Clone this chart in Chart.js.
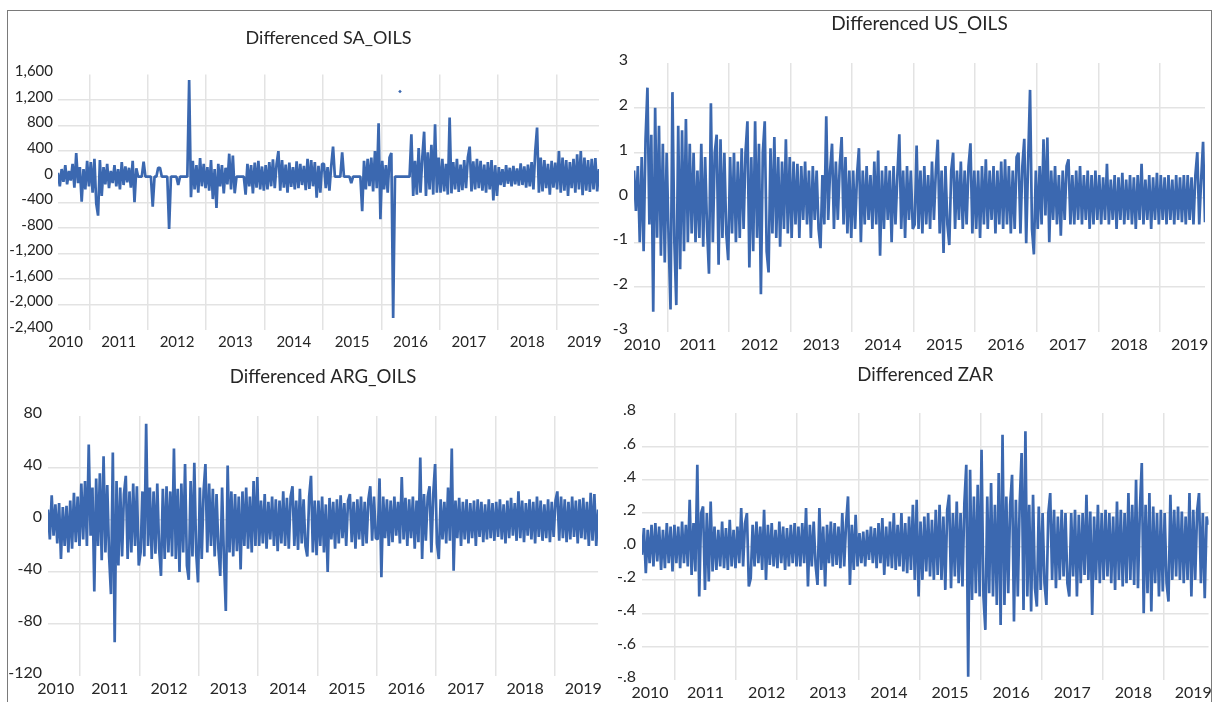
<!DOCTYPE html>
<html><head><meta charset="utf-8">
<script src="https://cdn.jsdelivr.net/npm/chart.js@4.4.1/dist/chart.umd.min.js"></script>
<style>
html,body{margin:0;padding:0;background:#fff;}
body{width:1215px;height:702px;position:relative;overflow:hidden;}
canvas{position:absolute;}
#frame{position:absolute;left:7px;top:10px;width:1205px;height:720px;border:1px solid #7a7a7a;box-sizing:border-box;}
</style></head><body>
<div id="frame"></div>
<canvas id="c1"></canvas><canvas id="c2"></canvas><canvas id="c3"></canvas><canvas id="c4"></canvas>
<script>
// ---- observation window (fractional years) and axis labels ----
const obsStart = 2010.46, obsEnd = 2019.73;
const yearLabels = ['2010','2011','2012','2013','2014','2015','2016','2017','2018','2019'];
const yearLabelPos = [2010.59,2011.5,2012.5,2013.5,2014.5,2015.5,2016.5,2017.5,2018.5,2019.48];
const yearGrid = [2011,2012,2013,2014,2015,2016,2017,2018,2019];

// ---- series values (one line per year) ----
const saOils = [
 60,-150,120,-80,180,-120,90,-60,200,-170,370,-100,150,-390,120,-200,250,-150,
 230,-250,280,-420,-610,260,-300,150,-120,200,-180,90,-100,180,-150,120,-200,230,-130,160,-90,140,-170,250,-400,130,0,0,0,235,0,0,
 0,0,-470,0,0,140,140,0,0,0,0,-820,0,0,0,0,-130,0,0,0,0,0,1515,-320,250,-200,180,-250,290,-150,200,-180,
 150,-220,260,-350,120,-490,200,-150,180,-260,140,-120,360,-200,330,-260,0,0,0,0,0,-280,200,-150,180,-260,220,-170,250,-200,160,-220,
 180,-200,230,-150,270,-180,200,400,-220,260,-170,190,-250,220,-160,150,-200,240,-180,200,-130,170,-210,280,-190,260,-150,230,-330,170,-250,200,
 200,-180,150,-220,170,470,0,0,0,0,380,0,0,0,0,-100,0,0,0,0,0,-540,250,-200,280,-150,300,-230,400,-180,835,-665,
 250,-200,180,-250,300,370,-2210,0,0,0,0,0,0,0,0,0,665,-300,250,-280,450,-250,300,705,-300,380,-200,500,-280,820,-250,300,
 -250,280,-230,200,-280,925,-260,230,-200,280,-240,190,-210,260,-180,300,470,-230,240,-200,280,-180,250,-220,190,-250,230,-200,260,-370,180,-300,
 150,-130,120,-160,180,-110,140,-150,170,-120,130,-140,210,-130,160,-170,190,-150,230,-200,400,770,-250,300,-230,260,-180,200,-280,250,-170,220,
 -200,400,-250,300,-220,260,-300,230,-180,280,-250,350,-200,400,-290,300,-220,260,-240,280,-200,290,-230,120
];
const saStrayPoint = [{x: 2016.32, y: 1333}];

const usOils = [
 0.6,-0.3,0.7,-1.0,0.9,-1.2,1.3,2.45,-0.6,1.4,-2.55,2.0,-0.9,1.6,-1.3,1.2,-1.45,1.0,
 -0.9,-2.5,2.35,-1.0,-2.4,1.6,-1.6,1.5,-1.2,1.75,-1.0,1.2,-0.8,1.0,-1.0,0.6,-0.9,1.2,-1.1,0.9,-0.7,-1.7,2.1,-1.0,1.0,1.4,-1.5,1.3,-0.9,1.0,-0.8,-1.4,
 0.9,-0.8,1.0,-1.0,0.8,-0.9,1.1,-0.7,1.0,1.7,-1.56,0.9,-1.2,1.7,-0.9,1.2,-2.16,1.0,1.7,-1.2,-1.67,1.1,-0.8,1.35,-0.9,0.9,-1.1,0.8,-0.7,1.3,-0.8,0.9,
 -0.9,0.8,-0.6,0.75,-0.9,0.7,-0.5,0.8,-0.6,0.6,-0.9,0.7,-0.5,0.6,-0.7,-1.13,0.5,-0.6,1.81,-0.5,0.6,1.2,-0.7,0.8,-0.5,0.7,1.35,-0.6,0.9,-0.8,0.6,-0.9,
 0.6,-0.7,0.5,1.1,-1.0,0.6,-0.6,0.7,-0.5,0.5,-0.7,0.8,-0.6,1.05,-1.3,0.6,-0.7,0.7,-0.5,0.6,-1.0,0.7,-0.6,0.5,1.41,-0.7,0.6,-0.9,0.7,-0.5,0.6,-0.7,
 -0.6,1.16,-0.7,0.6,-0.8,0.7,-0.6,0.5,-0.7,0.8,-0.5,0.6,1.29,-0.8,0.6,-1.24,0.7,-0.6,-1.06,0.6,1.0,-0.7,0.6,-0.5,0.8,-0.7,0.6,-0.6,0.7,1.21,-0.8,0.6,
 -0.7,0.6,-0.9,0.7,-0.6,0.85,-0.7,0.6,-0.5,0.7,-0.8,0.6,-0.6,0.8,-0.7,0.85,-0.6,0.7,-0.8,0.6,-0.7,0.9,1.0,-0.8,0.7,1.31,-1.02,0.8,2.4,-0.7,-1.27,0.6,
 -0.7,0.7,-0.6,1.3,-0.4,1.34,-1.0,0.6,-0.5,0.7,-0.6,0.5,-0.85,0.6,-0.5,0.7,0.85,-0.6,0.5,-0.6,0.6,-0.5,0.7,-0.6,0.5,-0.5,0.6,-0.7,0.5,-0.6,0.6,-0.5,
 0.5,-0.6,0.45,-0.5,0.75,-0.6,0.4,-0.5,0.5,-0.7,0.45,-0.5,0.55,-0.6,0.4,-0.5,0.5,-0.6,0.45,-0.7,0.5,-0.5,0.75,-0.6,0.4,-0.5,0.5,-0.7,0.45,-0.5,0.55,-0.6,
 0.5,-0.5,0.45,-0.6,0.5,-0.5,0.4,-0.6,0.5,-0.5,0.45,-0.55,0.5,-0.6,0.5,-0.5,0.45,-0.6,0.5,1.01,-0.6,0.4,1.24,-0.55
];

const argOils = [
 8,-15,19,-12,12,-18,13,-30,10,-20,11,-25,15,-22,21,-17,18,-20,
 28,-15,30,-20,58,-12,25,-55,32,-20,36,-31,49,-25,27,-28,-57,52,-94,30,-35,25,-28,20,34,-30,22,-25,28,-20,26,-35,
 -25,22,-28,74,-20,25,-30,22,-26,28,-22,-43,24,-30,26,-25,22,-28,55,-30,24,-40,28,-25,43,-35,-46,30,-28,44,-25,-48,
 25,-30,22,43,-25,28,-20,24,-28,20,-22,-43,25,-30,-70,42,-25,22,-28,20,-24,18,-38,22,-20,25,-22,18,-25,30,-20,33,
 -20,15,-18,20,-22,14,-15,18,-20,16,-24,15,-18,22,-20,17,-22,18,26,-20,15,-23,24,-18,16,-20,-28,18,34,-25,15,-27,
 15,-20,18,-25,12,-40,17,-15,14,-22,16,-18,19,-14,13,-20,15,20,-17,14,-22,16,-15,18,-20,14,-18,16,26,-16,18,-14,
 -15,32,-44,18,-14,16,-20,15,-17,18,-12,14,-18,33,-15,17,-20,16,-14,18,-22,15,-17,48,-30,20,-16,18,26,-25,20,43,
 -18,-30,16,-15,14,-18,25,-16,55,-39,15,-14,17,-20,14,-15,16,-18,13,-14,15,-20,16,-13,14,-17,12,-15,16,-14,13,-16,
 14,-13,16,-15,12,-18,15,-14,17,-12,13,-16,22,-14,15,-17,13,-12,16,-15,14,-18,18,-13,15,-16,12,-14,16,-17,14,-13,
 15,22,-16,18,-14,16,-17,14,-15,18,-13,15,-18,16,-14,17,-15,14,-20,21,-16,20,-20,8
];

const zarDiff = [
 -0.05,0.11,-0.16,0.1,-0.1,0.13,-0.12,0.14,-0.09,0.12,-0.14,0.1,-0.13,0.14,-0.1,0.12,-0.15,0.13,
 -0.1,0.12,-0.13,0.15,-0.1,0.13,-0.12,0.28,-0.17,0.14,-0.15,0.49,-0.3,0.2,0.24,-0.26,0.2,-0.21,0.27,-0.15,0.12,-0.14,0.1,-0.12,0.15,-0.13,0.11,-0.14,0.16,-0.12,0.1,-0.13,
 0.12,-0.1,0.23,-0.12,0.14,0.2,-0.24,-0.19,0.13,-0.12,0.15,-0.1,0.12,-0.14,0.22,-0.2,0.13,-0.11,0.14,-0.12,0.1,-0.13,0.15,-0.1,0.12,-0.14,0.11,-0.12,0.13,-0.1,0.14,-0.12,
 0.12,-0.12,0.14,-0.1,0.23,-0.24,0.13,-0.12,0.15,-0.11,-0.23,0.23,-0.14,0.12,-0.24,0.13,-0.1,0.15,-0.12,0.14,-0.11,0.12,-0.13,0.2,-0.12,0.14,0.3,-0.23,0.13,-0.14,0.19,-0.12,
 0.08,-0.1,0.09,-0.12,0.1,-0.08,0.12,-0.1,0.11,-0.13,0.14,-0.1,0.17,-0.17,0.12,-0.12,0.15,-0.13,0.2,-0.14,0.13,-0.12,0.2,-0.15,0.14,-0.16,0.18,-0.14,0.25,-0.2,0.28,-0.3,
 0.15,-0.2,0.18,-0.15,0.2,-0.18,0.16,-0.2,0.22,-0.17,0.25,-0.2,0.18,-0.26,0.22,0.31,-0.25,0.2,-0.18,0.27,-0.22,0.2,-0.24,0.26,0.49,-0.78,0.46,-0.32,0.3,-0.28,0.37,-0.3,
 0.58,-0.3,-0.5,0.3,-0.28,0.38,-0.3,0.25,-0.35,0.44,-0.47,0.67,-0.35,0.3,-0.28,0.25,0.43,-0.45,0.28,-0.3,0.26,0.56,-0.38,0.69,-0.3,0.25,-0.39,0.31,-0.25,-0.36,0.24,-0.26,
 0.2,-0.22,-0.35,0.2,0.32,-0.2,0.22,-0.25,0.18,-0.2,0.22,-0.18,0.2,-0.22,-0.3,0.2,-0.18,0.22,-0.3,0.19,-0.22,0.2,-0.17,0.31,-0.2,0.21,-0.41,0.18,-0.2,0.25,-0.22,0.2,
 -0.2,0.22,-0.18,0.2,-0.22,0.18,-0.26,0.27,-0.2,0.22,-0.24,0.2,-0.22,0.32,-0.2,0.25,-0.23,0.4,-0.25,0.22,0.5,-0.4,0.25,-0.28,0.32,-0.39,0.24,-0.22,0.2,-0.3,0.22,-0.27,
 0.2,-0.22,-0.33,0.31,-0.2,0.22,-0.18,0.24,-0.2,0.21,-0.22,0.18,-0.2,0.32,-0.3,0.22,-0.2,0.21,0.32,-0.22,0.2,-0.31,0.18,0.13
];

// ---- y tick values and their printed labels (ascending) ----
const saTicks = [-2400,-2000,-1600,-1200,-800,-400,0,400,800,1200,1600];
const saTickLabels = ['-2,400','-2,000','-1,600','-1,200','-800','-400','0','400','800','1,200','1,600'];
const usTicks = [-3,-2,-1,0,1,2,3];
const usTickLabels = ['-3','-2','-1','0','1','2','3'];
const argTicks = [-120,-80,-40,0,40,80];
const argTickLabels = ['-120','-80','-40','0','40','80'];
const zarTicks = [-0.8,-0.6,-0.4,-0.2,0,0.2,0.4,0.6,0.8];
const zarTickLabels = ['-.8','-.6','-.4','-.2','.0','.2','.4','.6','.8'];

// ---- styling ----
const LINE = '#3b68b0';
const GRID = '#e3e3e3';
const TEXT = '#262626';
const FONT = 'Lato, "Open Sans", sans-serif';

function drawPanel(id, p) {
  const cv = document.getElementById(id);
  cv.width = p.box[2]; cv.height = p.box[3];
  cv.style.left = p.box[0] + 'px'; cv.style.top = p.box[1] + 'px';
  const n = p.values.length;
  const step = (obsEnd - obsStart) / (n - 1);
  const pts = p.values.map((v, i) => ({x: obsStart + i * step, y: v}));
  const datasets = [{data: pts, borderColor: LINE, borderWidth: 2.7, borderJoinStyle: 'bevel', borderCapStyle: 'butt',
                     pointRadius: 0, tension: 0, fill: false}];
  if (p.extra) datasets.push({data: p.extra, showLine: false, pointRadius: 1.8, pointStyle: 'rectRot',
                              backgroundColor: LINE, borderColor: LINE, borderWidth: 0});
  const last = p.ticks.length - 1;
  new Chart(cv, {
    type: 'line',
    data: {datasets},
    options: {
      responsive: false, animation: false, events: [], devicePixelRatio: 1,
      layout: {padding: {left: 0, right: p.padRight, top: 0, bottom: 0}},
      plugins: {
        legend: {display: false}, tooltip: {enabled: false},
        title: {display: true, text: p.title, fullSize: false, color: TEXT,
                font: {family: FONT, size: p.titleSize, weight: 'normal', lineHeight: 1.2},
                padding: {top: p.titleTop, bottom: p.titleBottom}}
      },
      scales: {
        x: {type: 'linear', min: obsStart, max: obsEnd,
            afterBuildTicks: s => { s.ticks = yearGrid.map(v => ({value: v})); },
            afterFit: s => { s.height = 0; },
            ticks: {display: false}, grid: {color: GRID, lineWidth: 1.5, drawTicks: false}, border: {display: false}},
        xl: {type: 'linear', axis: 'x', position: 'bottom', min: obsStart, max: obsEnd,
             afterBuildTicks: s => { s.ticks = yearLabelPos.map(v => ({value: v})); },
             afterFit: s => { s.height = p.xH; },
             ticks: {autoSkip: false, maxRotation: 0, minRotation: 0, color: TEXT, padding: 3,
                     font: {family: FONT, size: p.tickSize}, callback: (v, i) => yearLabels[i]},
             grid: {display: false, drawTicks: false}, border: {display: false}},
        y: {min: p.ticks[0], max: p.ticks[last],
            afterBuildTicks: s => { s.ticks = p.ticks.map(v => ({value: v})); },
            afterFit: s => { s.width = p.yW; },
            ticks: {color: TEXT, padding: p.yPad, labelOffset: -3, font: {family: FONT, size: p.tickSize},
                    callback: (v, i) => p.tickLabels[i]},
            grid: {color: c => (c.index === 0 || c.index === last) ? 'rgba(0,0,0,0)' : GRID, lineWidth: 1.5, drawTicks: false},
            border: {display: false}}
      }
    }
  });
}

drawPanel('c1', {title: 'Differenced SA_OILS', values: saOils, extra: saStrayPoint, ticks: saTicks, tickLabels: saTickLabels,
  box: [0, 12, 605, 346], yW: 58, padRight: 6, xH: 28, titleSize: 18, titleTop: 15.2, titleBottom: 25.7, tickSize: 15, yPad: 5});
drawPanel('c2', {title: 'Differenced US_OILS', values: usOils, ticks: usTicks, tickLabels: usTickLabels,
  box: [605, 0, 610, 360], yW: 29, padRight: 10, xH: 28, titleSize: 19, titleTop: 12.6, titleBottom: 27.6, tickSize: 16, yPad: 6});
drawPanel('c3', {title: 'Differenced ARG_OILS', values: argOils, ticks: argTicks, tickLabels: argTickLabels,
  box: [0, 360, 605, 342], yW: 48, padRight: 3, xH: 26, titleSize: 18.6, titleTop: 5.8, titleBottom: 27.9, tickSize: 16, yPad: 6});
drawPanel('c4', {title: 'Differenced ZAR', values: zarDiff, ticks: zarTicks, tickLabels: zarTickLabels,
  box: [605, 360, 610, 342], yW: 37, padRight: 6, xH: 22, titleSize: 18.6, titleTop: 3.8, titleBottom: 26.9, tickSize: 16, yPad: 6});
</script>
</body></html>
